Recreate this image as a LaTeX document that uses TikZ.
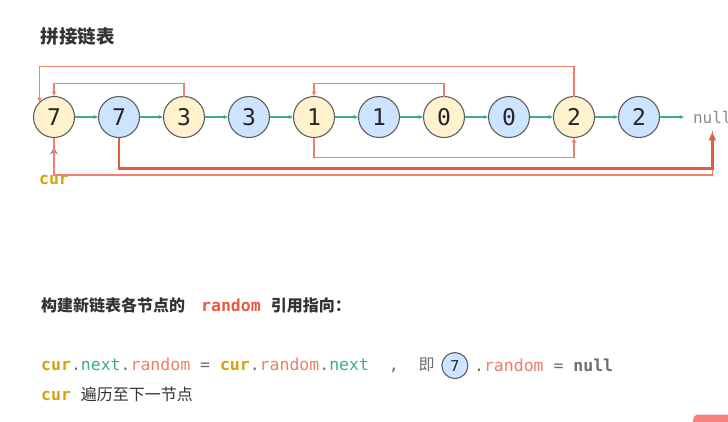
\documentclass[tikz,border=0pt]{standalone}
\usepackage{fontspec}
\newfontfamily\cjk{Noto Sans CJK SC}
\newfontfamily\mono{DejaVu Sans Mono}
\usetikzlibrary{arrows.meta, positioning, calc}

\definecolor{nodeyellow}{RGB}{255,242,204}
\definecolor{nodeblue}{RGB}{204,228,255}
\definecolor{nodeborder}{RGB}{95,95,95}
\definecolor{nextteal}{RGB}{62,170,150}
\definecolor{rndthin}{RGB}{240,128,106}
\definecolor{rndthick}{RGB}{232,90,62}
\definecolor{curgold}{RGB}{214,162,12}
\definecolor{codegray}{RGB}{110,110,110}
\definecolor{rndsalmon}{RGB}{240,125,105}
\definecolor{nullgray}{RGB}{140,140,140}
\definecolor{badgered}{RGB}{250,128,128}

\begin{document}
\begin{tikzpicture}[
    x=1pt, y=-1pt,
    node distance=24pt,
    item/.style={circle, draw=nodeborder, line width=1.1pt, minimum size=41pt, inner sep=0pt, outer sep=0pt, font=\mono\fontsize{23}{23}\selectfont, text=black!85},
    old/.style={item, fill=nodeyellow},
    new/.style={item, fill=nodeblue},
    txt/.style={inner sep=0pt, text=codegray, font=\mono\fontsize{16.5}{18}\selectfont},
    nextarrow/.style={-{Latex[length=5pt, width=4.5pt]}, draw=nextteal, line width=1.1pt},
    rndarrow/.style={-{Latex[length=5pt, width=5pt]}, draw=rndthin, line width=1.4pt},
    rndnull/.style={draw=rndthin, line width=1.4pt, shorten >=4.5pt},
    rndnew/.style={-{Latex[length=9pt, width=8pt]}, draw=rndthick, line width=2.6pt, shorten >=4.5pt},
    curarrow/.style={-{Stealth[length=7pt, width=8pt, inset=2.5pt]}, draw=nullgray, line width=1.2pt},
]
\useasboundingbox (0,0) rectangle (728,421);

\node[anchor=base west, inner sep=0pt, text=black!80, font=\cjk\bfseries\fontsize{18.5}{20}\selectfont] (title) at (40.5,43) {拼接链表};

% list with interleaved copies
\node[old] (old7) at (54,117) {7};
\node[new, right=of old7] (new7) {7};
\node[old, right=of new7] (old3) {3};
\node[new, right=of old3] (new3) {3};
\node[old, right=of new3] (old1) {1};
\node[new, right=of old1] (new1) {1};
\node[old, right=of new1] (old0) {0};
\node[new, right=of old0] (new0) {0};
\node[old, right=of new0] (old2) {2};
\node[new, right=of old2] (new2) {2};
\node[right=30pt of new2, text=nullgray, font=\mono\fontsize{16}{18}\selectfont] (null) {null};

\foreach \a/\b in {old7/new7, new7/old3, old3/new3, new3/old1, old1/new1, new1/old0, old0/new0, new0/old2, old2/new2}
    \draw[nextarrow] (\a) -- (\b);
\draw[nextarrow, shorten >=5pt] (new2) -- (null);

\node[below=38pt of old7, txt, text=curgold, font=\mono\bfseries\fontsize{16.5}{18}\selectfont] (cur) {cur};
\draw[curarrow] (cur.north) -- ++(0,-28);

% random pointers
\draw[rndarrow] (old2.north) -- ++(0,-30) -| (old7.north west);
\draw[rndarrow] (old3.north) -- ++(0,-13) -| (old7.north);
\draw[rndarrow] (old0.north) -- ++(0,-13) -| (old1.north);
\draw[rndarrow] (old1.south) -- ++(0,20) -| (old2.south);
\draw[rndnull] (old7.south) -- ++(0,37.5) -| (null.south);
\draw[rndnew] (new7.south) -- ++(0,31) -| (null.south);

% explanation
\node[anchor=base west, txt, text=black!80] (heading) at (41,311.7) {{\cjk\bfseries\fontsize{16}{18}\selectfont 构建新链表各节点的}\hspace{16pt}{\bfseries\color{rndthick}random}\hspace{10pt}{\cjk\bfseries\fontsize{16}{18}\selectfont 引用指向：}};

\node[anchor=base west, txt] (code) at (41,370.7) {{\bfseries\color{curgold}cur}.{\color{nextteal}next}.{\color{rndsalmon}random} = {\bfseries\color{curgold}cur}.{\color{rndsalmon}random}.{\color{nextteal}next}~~,~~{\cjk\fontsize{16}{18}\selectfont 即}};
\node[new, minimum size=26pt, font=\mono\fontsize{15}{15}\selectfont, right=7pt of code] (mini) {7};
\node[txt, right=6pt of mini] (tail) {.{\color{rndsalmon}random} = {\bfseries null}};

\node[anchor=base west, txt] (step) at (41,400.7) {{\bfseries\color{curgold}cur} {\cjk\fontsize{16}{18}\selectfont\color{black!80}遍历至下一节点}};

\fill[badgered, rounded corners=5pt] (693,414.5) rectangle (745,435);
\end{tikzpicture}
\end{document}
